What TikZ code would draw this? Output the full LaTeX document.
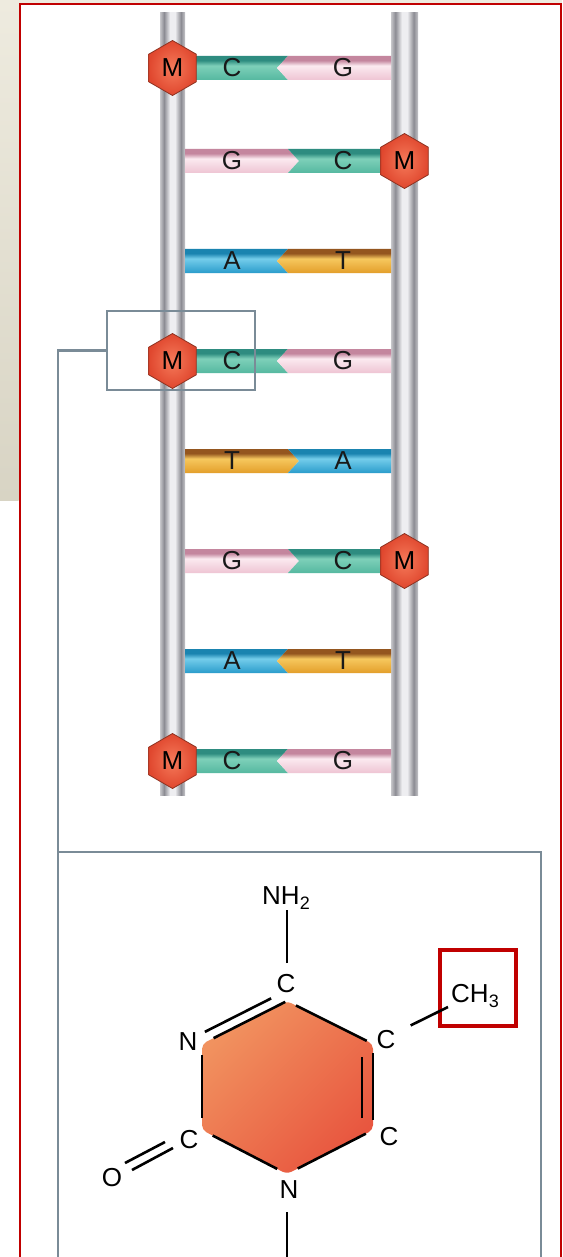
\documentclass[tikz,border=0pt]{standalone}
\usepackage{fontspec}
\setmainfont{Liberation Sans}
\usetikzlibrary{shapes.geometric}

% palette
\definecolor{frameRed}{HTML}{C00000}
\definecolor{slideA}{HTML}{EEEBDF}
\definecolor{slideB}{HTML}{D8D4C4}
\definecolor{boxSlate}{HTML}{7A8B97}
\definecolor{rL}{HTML}{C6C6CA}
\definecolor{rD}{HTML}{8C8C93}
\definecolor{rW}{HTML}{EEEEF1}
\definecolor{cTop}{HTML}{2E8C80}
\definecolor{cLit}{HTML}{7ED0B9}
\definecolor{cBot}{HTML}{55B8A0}
\definecolor{gTop}{HTML}{C4869E}
\definecolor{gLit}{HTML}{FBEAF0}
\definecolor{gBot}{HTML}{EEC4D3}
\definecolor{aTop}{HTML}{1A84B0}
\definecolor{aLit}{HTML}{74CDEB}
\definecolor{aBot}{HTML}{2A9CCB}
\definecolor{tTop}{HTML}{94561F}
\definecolor{tLit}{HTML}{F6C85E}
\definecolor{tBot}{HTML}{E39E2A}
\definecolor{hexIn}{HTML}{F57A5A}
\definecolor{hexOut}{HTML}{E0472E}
\definecolor{hexLine}{HTML}{8E3322}
\definecolor{ringA}{HTML}{F1925F}
\definecolor{ringB}{HTML}{E8563F}

% sugar-phosphate backbone: two grey tubes side by side
\pgfdeclarehorizontalshading{railshade}{100bp}{color(0bp)=(rL); color(25bp)=(rL);
  color(33bp)=(rD); color(45bp)=(rW); color(55bp)=(rW); color(67bp)=(rD);
  color(75bp)=(rL); color(100bp)=(rL)}
% base bars: dark top edge, light highlight, mid-tone body
\pgfdeclareverticalshading{baseC}{100bp}{color(0bp)=(cBot); color(25bp)=(cBot);
  color(55bp)=(cLit); color(66bp)=(cTop); color(75bp)=(cTop); color(100bp)=(cTop)}
\pgfdeclareverticalshading{baseG}{100bp}{color(0bp)=(gBot); color(25bp)=(gBot);
  color(55bp)=(gLit); color(66bp)=(gTop); color(75bp)=(gTop); color(100bp)=(gTop)}
\pgfdeclareverticalshading{baseA}{100bp}{color(0bp)=(aBot); color(25bp)=(aBot);
  color(55bp)=(aLit); color(66bp)=(aTop); color(75bp)=(aTop); color(100bp)=(aTop)}
\pgfdeclareverticalshading{baseT}{100bp}{color(0bp)=(tBot); color(25bp)=(tBot);
  color(55bp)=(tLit); color(66bp)=(tTop); color(75bp)=(tTop); color(100bp)=(tTop)}

\tikzset{
  baselabel/.style={inner sep=0pt, text=black!90, font=\fontsize{26}{26}\selectfont},
  mhex/.style={regular polygon, regular polygon sides=6, shape border rotate=30,
    minimum size=55pt, inner sep=0pt, draw=hexLine, line width=0.8pt,
    inner color=hexIn, outer color=hexOut, font=\fontsize{26}{26}\selectfont},
  magbox/.style={draw=boxSlate, line width=2.2pt, outer sep=0pt, inner sep=0pt},
  maglink/.style={draw=boxSlate, line width=2.2pt},
  bond/.style={draw=black, line width=2.6pt},
  atom/.style={inner sep=0pt, font=\fontsize{26}{26}\selectfont},
  methylbox/.style={draw=frameRed, line width=4.5pt, outer sep=0pt, inner sep=0pt,
    minimum size=76pt},
}

% one base pair: #1 name, #2 y, #3 left base, #4 right base, #5 tip offset of the junction
\newcommand{\pairrow}[5]{%
  \shade[shading=base#3] (185,#2+12) -- (288,#2+12) -- (288+#5,#2) -- (288,#2-12)
    -- (185,#2-12) -- cycle;
  \shade[shading=base#4] (288,#2+12) -- (391,#2+12) -- (391,#2-12) -- (288,#2-12)
    -- (288+#5,#2) -- cycle;
  \node[baselabel] (#1l) at (232,#2) {#3};
  \node[baselabel] (#1r) at (343,#2) {#4};
}

\begin{document}
\begin{tikzpicture}[x=1pt, y=1pt]
\useasboundingbox (0,0) rectangle (562,-1257);
\clip (0,0) rectangle (562,-1257);
\fill[white] (0,0) rectangle (562,-1257);

% slide background and frame
\fill[slideA] (0,0) rectangle (562,-3.5);
\shade[top color=slideA, bottom color=slideB] (0,0) rectangle (18.5,-500);
\draw[frameRed, line width=2pt] (19.5,-1300) -- (19.5,-4.5) -- (560.5,-4.5) -- (560.5,-1300);

% backbones
\shade[shading=railshade] (160,-13) rectangle (185,-795);
\shade[shading=railshade] (391,-13) rectangle (418,-795);

% base pairs
\pairrow{p1}{-68}{C}{G}{-11}
\pairrow{p2}{-161}{G}{C}{11}
\pairrow{p3}{-261}{A}{T}{-11}
\pairrow{p4}{-361}{C}{G}{-11}
\pairrow{p5}{-461}{T}{A}{11}
\pairrow{p6}{-561}{G}{C}{11}
\pairrow{p7}{-661}{A}{T}{-11}
\pairrow{p8}{-761}{C}{G}{-11}

% methyl groups on cytosines
\node[mhex] (m1) at (172.5,-68) {M};
\node[mhex] (m2) at (404.5,-161) {M};
\node[mhex] (m4) at (172.5,-361) {M};
\node[mhex] (m6) at (404.5,-561) {M};
\node[mhex] (m8) at (172.5,-761) {M};

% magnified region and its detail panel
\node[magbox, minimum width=148pt, minimum height=79pt] (mag) at (181,-350.5) {};
\node[magbox, anchor=north west, minimum width=483pt, minimum height=460pt]
  (detail) at (58,-852) {};
\draw[maglink] (mag.west) -| (detail.north west);

% 5-methylcytosine ring
\coordinate (rT)  at (287,-1001);
\coordinate (rUR) at (373,-1044);
\coordinate (rLR) at (373,-1130);
\coordinate (rB)  at (287,-1174);
\coordinate (rLL) at (202,-1130);
\coordinate (rUL) at (202,-1044);
\shade[top color=ringA, bottom color=ringB, shading angle=45, rounded corners=5pt]
  (rT) -- (rUR) -- (rLR) -- (rB) -- (rLL) -- (rUL) -- cycle;

\node[atom] (aCt)  at (286,-984)  {C};
\node[atom] (aNul) at (188,-1042) {N};
\node[atom] (aCur) at (386,-1040) {C};
\node[atom] (aClr) at (389,-1137) {C};
\node[atom] (aCll) at (189,-1140) {C};
\node[atom] (aNb)  at (289,-1190) {N};
\node[atom] (aO)   at (112,-1178) {O};
\node[atom, anchor=base west] (nh2) at (262,-904)
  {NH{\fontsize{18}{18}\selectfont\raisebox{-5pt}{2}}};
\node[atom, anchor=base west] (ch3) at (451,-1002)
  {CH{\fontsize{18}{18}\selectfont\raisebox{-5pt}{3}}};
\node[methylbox] (mbox) at (478,-988) {};
\coordinate (me) at (448,-1007);

\draw[bond, shorten <=10pt, shorten >=7pt] (rT) -- (rUR);
\draw[bond, shorten <=9pt, shorten >=10pt] (rUR) -- (rLR);
\draw[bond, shorten <=13pt, shorten >=12pt] ([xshift=-11pt]rUR) -- ([xshift=-11pt]rLR);
\draw[bond, shorten <=8pt, shorten >=12pt] (rLR) -- (rB);
\draw[bond, shorten <=11pt, shorten >=12pt] (rB) -- (rLL);
\draw[bond, shorten <=12pt, shorten >=11pt] (rLL) -- (rUL);
\draw[bond, shorten <=13pt, shorten >=2pt] (rUL) -- (rT);
\draw[bond, shorten <=8pt, shorten >=13pt] ([shift={(-4.3,8.5)}]rUL) -- ([shift={(-4.3,8.5)}]rT);
\draw[bond] ([yshift=38pt]rT) -- ([yshift=91pt]rT);
\draw[bond, shorten <=42pt] (rUR) -- (me);
\draw[bond] ([shift={(-37,-12)}]rLL) -- ([shift={(13,15)}]aO.center);
\draw[bond] ([shift={(-29,-18)}]rLL) -- ([shift={(20,8)}]aO.center);
\draw[bond] ([yshift=-38pt]rB) -- ([yshift=-100pt]rB);
\end{tikzpicture}
\end{document}
